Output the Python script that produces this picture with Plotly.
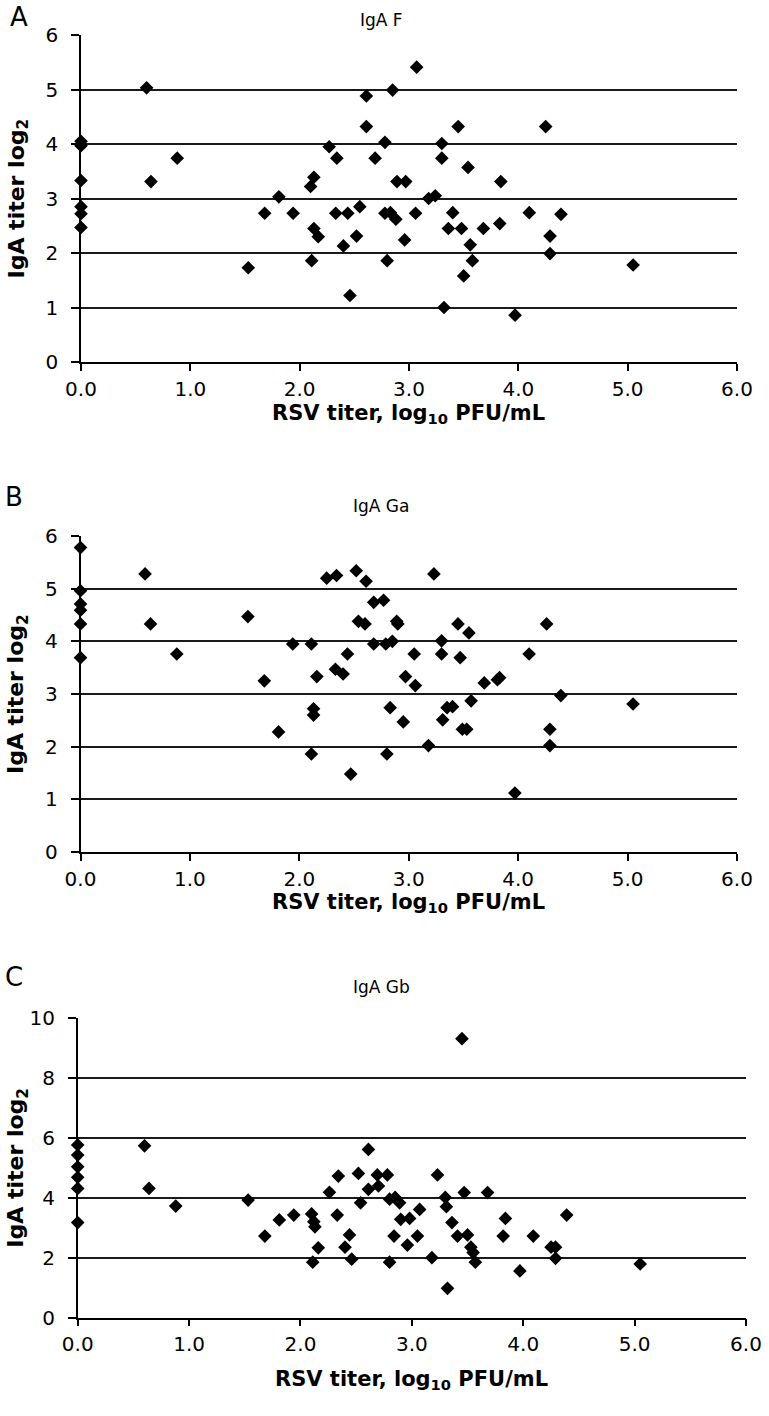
import plotly.graph_objects as go

# ---------------- data ----------------
# Panel A : IgA F
F_x = [0, 0, 0, 0, 0, 0,
       0.60, 0.64, 0.88, 1.53, 1.68, 1.81, 1.94, 2.11, 2.10, 2.13, 2.13, 2.17,
       2.27, 2.34, 2.33, 2.40, 2.44, 2.46, 2.52, 2.55, 2.61, 2.61, 2.69, 2.78,
       2.78, 2.80, 2.85, 2.83, 2.88, 2.89, 2.96, 2.97, 3.07, 3.06, 3.18, 3.24,
       3.30, 3.30, 3.45, 3.54, 3.40, 3.36, 3.48, 3.56, 3.58, 3.50, 3.32, 3.68,
       3.83, 3.84, 3.97, 4.10, 4.25, 4.29, 4.29, 4.39, 5.05]
F_y = [4.05, 3.97, 3.33, 2.85, 2.72, 2.47,
       5.03, 3.31, 3.74, 1.73, 2.73, 3.03, 2.73, 1.86, 3.22, 3.39, 2.45, 2.30,
       3.95, 3.74, 2.73, 2.13, 2.73, 1.22, 2.31, 2.85, 4.88, 4.32, 3.74, 4.03,
       2.73, 1.86, 4.99, 2.74, 2.62, 3.31, 2.24, 3.31, 5.41, 2.73, 3.00, 3.05,
       4.01, 3.74, 4.32, 3.57, 2.74, 2.45, 2.45, 2.15, 1.86, 1.58, 1.00, 2.45,
       2.54, 3.31, 0.86, 2.74, 4.32, 2.31, 1.99, 2.71, 1.78]

# Panel B : IgA Ga
Ga_x = [0, 0, 0, 0, 0, 0,
        0.59, 0.64, 0.88, 1.53, 1.68, 1.81, 1.94, 2.11, 2.13, 2.13, 2.16, 2.11,
        2.25, 2.34, 2.33, 2.40, 2.44, 2.47, 2.52, 2.61, 2.54, 2.60, 2.68, 2.77,
        2.68, 2.79, 2.85, 2.89, 2.90, 2.83, 2.95, 2.80, 2.97, 3.05, 3.06, 3.18,
        3.23, 3.30, 3.30, 3.45, 3.55, 3.47, 3.35, 3.40, 3.31, 3.49, 3.53, 3.57,
        3.69, 3.83, 3.81, 3.97, 4.10, 4.26, 4.29, 4.29, 4.39, 5.05]
Ga_y = [5.78, 4.96, 4.71, 4.59, 4.33, 3.69,
        5.28, 4.33, 3.76, 4.47, 3.25, 2.28, 3.95, 3.95, 2.72, 2.60, 3.33, 1.86,
        5.20, 5.25, 3.47, 3.38, 3.76, 1.48, 5.34, 5.14, 4.38, 4.33, 4.74, 4.78,
        3.95, 3.95, 4.00, 4.38, 4.33, 2.74, 2.47, 1.86, 3.33, 3.76, 3.16, 2.02,
        5.28, 4.01, 3.76, 4.33, 4.16, 3.69, 2.74, 2.76, 2.51, 2.33, 2.33, 2.87,
        3.21, 3.31, 3.27, 1.12, 3.76, 4.33, 2.33, 2.02, 2.97, 2.81]

# Panel C : IgA Gb
Gb_x = [0, 0, 0, 0, 0, 0,
        0.60, 0.64, 0.88, 1.53, 1.68, 1.81, 1.94, 2.10, 2.12, 2.13, 2.11, 2.16,
        2.26, 2.34, 2.33, 2.40, 2.44, 2.46, 2.52, 2.54, 2.61, 2.61, 2.69, 2.70,
        2.78, 2.80, 2.85, 2.89, 2.84, 2.80, 2.90, 2.96, 2.98, 3.07, 3.05, 3.18,
        3.45, 3.23, 3.30, 3.31, 3.36, 3.41, 3.50, 3.47, 3.32, 3.53, 3.55, 3.57,
        3.68, 3.84, 3.82, 3.97, 4.09, 4.25, 4.29, 4.29, 4.39, 5.05]
Gb_y = [5.76, 5.42, 5.03, 4.68, 4.31, 3.17,
        5.73, 4.31, 3.72, 3.92, 2.72, 3.26, 3.42, 3.46, 3.20, 3.03, 1.85, 2.33,
        4.18, 4.72, 3.42, 2.35, 2.76, 1.95, 4.81, 3.83, 5.61, 4.28, 4.76, 4.39,
        4.76, 3.95, 4.01, 3.83, 2.72, 1.85, 3.28, 2.42, 3.31, 3.61, 2.72, 2.00,
        9.30, 4.76, 4.01, 3.70, 3.17, 2.72, 2.76, 4.17, 0.98, 2.35, 2.17, 1.85,
        4.17, 3.31, 2.72, 1.56, 2.72, 2.35, 2.35, 1.98, 3.42, 1.79]

panel_titles = ["IgA F", "IgA Ga", "IgA Gb"]
panel_letters = ["A", "B", "C"]
x_ticks = [0, 1, 2, 3, 4, 5, 6]
y_ticks_ab = [0, 1, 2, 3, 4, 5, 6]
y_ticks_c = [0, 2, 4, 6, 8, 10]
x_title = "<b>RSV titer, log<sub>10</sub> PFU/mL</b>"
y_title = "<b>IgA titer log<sub>2</sub></b>"

# ---------------- layout geometry (window pixels) ----------------
W, H = 769, 1416
FONT = "DejaVu Sans, Liberation Sans, Arial, sans-serif"


def px(sx):
    return sx / W


def py(sy):
    return 1 - sy / H


# (x0, x1, ytop, ybottom) plot-area boxes in pixels
boxes = [(81, 737, 35, 362), (80.5, 737, 536, 852), (77.7, 746, 1017.7, 1317.7)]
title_y = [20, 506, 987]
letter_x = [19, 14, 14]
letter_y = [17, 497, 977]
xtitle_y = [414, 903, 1380]

series = [(F_x, F_y, y_ticks_ab), (Ga_x, Ga_y, y_ticks_ab), (Gb_x, Gb_y, y_ticks_c)]

fig = go.Figure()
annotations = []

for i, ((xs, ys, yt), (x0, x1, yt0, yb0)) in enumerate(zip(series, boxes)):
    n = "" if i == 0 else str(i + 1)
    fig.add_trace(go.Scatter(
        x=xs, y=ys, mode="markers", xaxis="x" + n, yaxis="y" + n,
        marker=dict(symbol="diamond", size=10.5, color="black", line=dict(width=0)),
        cliponaxis=False, showlegend=False, hoverinfo="x+y"))

    fig.update_layout(**{
        "xaxis" + n: dict(
            domain=[px(x0), px(x1)], anchor="y" + n, range=[0, 6],
            tickvals=x_ticks, ticktext=["%.1f" % v for v in x_ticks],
            ticks="outside", ticklen=7, tickwidth=1.5, tickcolor="black",
            ticklabelstandoff=1,
            showline=True, linecolor="black", linewidth=1.5,
            showgrid=False, zeroline=False, automargin=False,
            tickfont=dict(family=FONT, size=20, color="black")),
        "yaxis" + n: dict(
            domain=[py(yb0), py(yt0)], anchor="x" + n,
            range=[yt[0], yt[-1]], tickvals=yt,
            ticks="outside", ticklen=8, tickwidth=1.5, tickcolor="black",
            ticklabelstandoff=9,
            showline=True, linecolor="black", linewidth=1.5,
            showgrid=True, gridcolor="#1a1a1a", gridwidth=1.5, zeroline=False,
            automargin=False,
            tickfont=dict(family=FONT, size=20, color="black")),
    })

    ymid = (yt0 + yb0) / 2
    annotations += [
        dict(text=panel_titles[i], x=px(381), y=py(title_y[i]), xref="paper", yref="paper",
             showarrow=False, xanchor="center", yanchor="middle",
             font=dict(family=FONT, size=17, color="black")),
        dict(text=panel_letters[i], x=px(letter_x[i]), y=py(letter_y[i]),
             xref="paper", yref="paper",
             showarrow=False, xanchor="center", yanchor="middle",
             font=dict(family=FONT, size=26, color="black")),
        dict(text=x_title, x=px((x0 + x1) / 2), y=py(xtitle_y[i]), xref="paper", yref="paper",
             showarrow=False, xanchor="center", yanchor="middle",
             font=dict(family=FONT, size=21, color="black")),
        dict(text=y_title, x=px(18), y=py(ymid), xref="paper", yref="paper",
             showarrow=False, xanchor="center", yanchor="middle", textangle=-90,
             font=dict(family=FONT, size=22, color="black")),
    ]

fig.update_layout(
    width=W, height=H,
    margin=dict(l=0, r=0, t=0, b=0, pad=0, autoexpand=False),
    paper_bgcolor="white", plot_bgcolor="white",
    annotations=annotations, showlegend=False,
)

# remove the page's default 8 px body margin so the figure fills the window,
# and hide the interactive mode bar
fig.write_html(
    "out.html",
    config={"displayModeBar": False},
    post_script="document.body.style.margin='0';document.body.style.padding='0';",
)
